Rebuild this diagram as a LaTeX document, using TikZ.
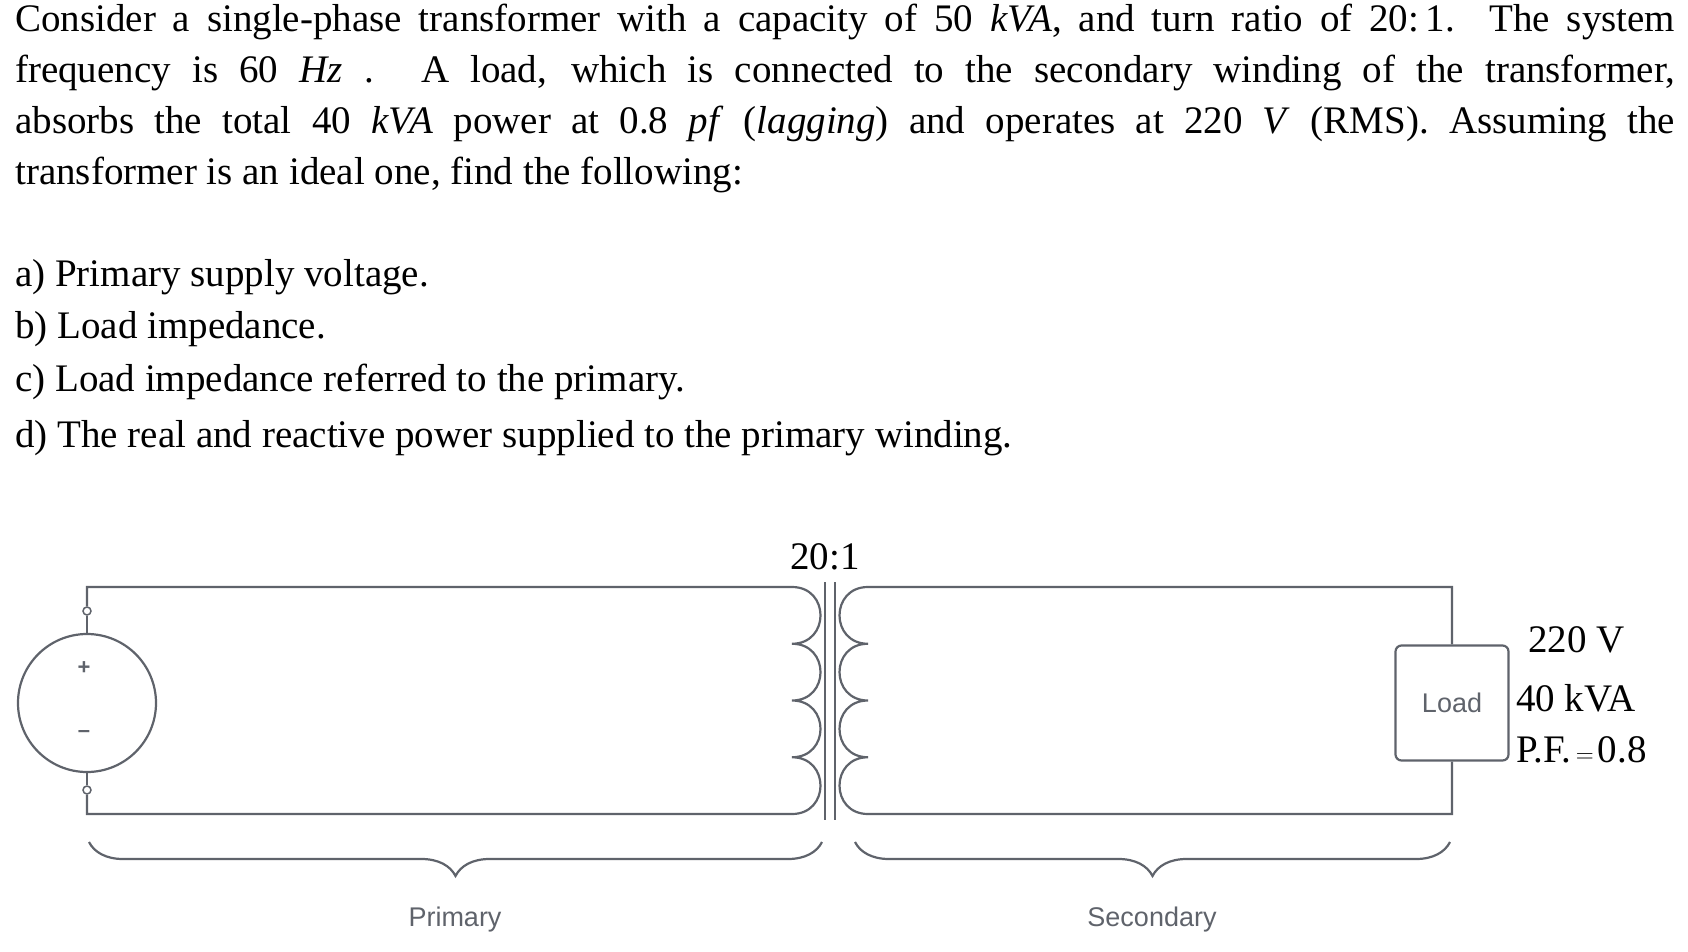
\documentclass[tikz,border=0pt]{standalone}
\usepackage{fontspec}
\setmainfont{Liberation Serif}
\newfontfamily\labelfont{Liberation Sans}
\usetikzlibrary{decorations.pathreplacing}
\definecolor{wire}{HTML}{5F636B}
\tikzset{
  wire/.style = {draw=wire, line width=2.2pt},
  txt/.style = {anchor=west, inner sep=0pt, font=\fontsize{39}{51}\selectfont},
  tag/.style = {text=wire, font=\labelfont\fontsize{27}{30}\selectfont},
  val/.style = {anchor=west, inner sep=0pt, font=\fontsize{39}{42}\selectfont},
  bracebelow/.style = {wire, decorate, decoration={brace, amplitude=34pt, aspect=0.5, mirror}}
}
\newcommand{\coilR}[2]{.. controls (#1+38,#2) and (#1+38,#2+56.75) .. (#1,#2+56.75)}
\newcommand{\coilL}[2]{.. controls (#1-38,#2) and (#1-38,#2+56.75) .. (#1,#2+56.75)}
\newcommand{\mi}[1]{\textit{#1}}
\begin{document}
\begin{tikzpicture}[x=1pt, y=-1pt]
\useasboundingbox (0,0) rectangle (1688,952);
% problem text
\node[txt, anchor=north west, text width=1660pt, align=justify] (intro) at (15,4)
  {Consider a single-phase transformer with a capacity of 50 \mi{kVA}, and turn ratio of 20:\,1. The system\linebreak frequency is 60 \mi{Hz} . A load, which is connected to the secondary winding of the transformer,\linebreak absorbs the total 40 \mi{kVA} power at 0.8 \mi{pf} (\mi{lagging}) and operates at 220 \mi{V} (RMS). Assuming the\linebreak transformer is an ideal one, find the following:};
\node[txt] (qa) at (15,277) {a) Primary supply voltage.};
\node[txt] (qb) at (15,329) {b) Load impedance.};
\node[txt] (qc) at (15,382) {c) Load impedance referred to the primary.};
\node[txt] (qd) at (15,438) {d) The real and reactive power supplied to the primary winding.};
% source
\node[draw=wire, line width=2.2pt, circle, minimum size=138pt, inner sep=0pt] (src) at (87,703) {};
\node[draw=wire, line width=1.5pt, circle, minimum size=8pt, inner sep=0pt] (tp) at (87,611) {};
\node[draw=wire, line width=1.5pt, circle, minimum size=8pt, inner sep=0pt] (tm) at (87,790) {};
\node[tag, font=\labelfont\bfseries\fontsize{22}{24}\selectfont] (plus) at (84,668) {+};
\node[tag, font=\labelfont\bfseries\fontsize{22}{24}\selectfont] (minus) at (84,734) {\textendash};
\draw[wire] (tp) -- (src);
\draw[wire] (tm) -- (src);
% primary winding
\draw[wire] (tp) -- (87,587) -- (792,587) \coilR{792}{587} \coilR{792}{643.75}
  \coilR{792}{700.5} \coilR{792}{757.25} -- (87,814) -- (tm);
% core
\draw[wire, line width=1.8pt] (825,582) -- (825,820);
\draw[wire, line width=1.8pt] (835,582) -- (835,820);
\node[val] (ratio) at (790,557) {20:1};
% secondary winding and load
\node[draw=wire, line width=2.2pt, rounded corners=6pt, minimum width=113pt, minimum height=115pt, tag] (load) at (1452,703) {Load};
\draw[wire] (load.north) -- (1452,587) -- (868,587) \coilL{868}{587} \coilL{868}{643.75}
  \coilL{868}{700.5} \coilL{868}{757.25} -- (1452,814) -- (load.south);
\node[val] (volt) at (1528,640) {220 V};
\node[val] (kva) at (1516,698) {40 kVA};
\node[val] (pf) at (1516,750) {P.F.$\,=\,$0.8};
% braces
\draw[bracebelow] (89,842) -- (822,842);
\draw[bracebelow] (855,842) -- (1450,842);
\node[tag] (prim) at (455,920) {Primary};
\node[tag] (sec) at (1152,920) {Secondary};
\end{tikzpicture}
\end{document}
